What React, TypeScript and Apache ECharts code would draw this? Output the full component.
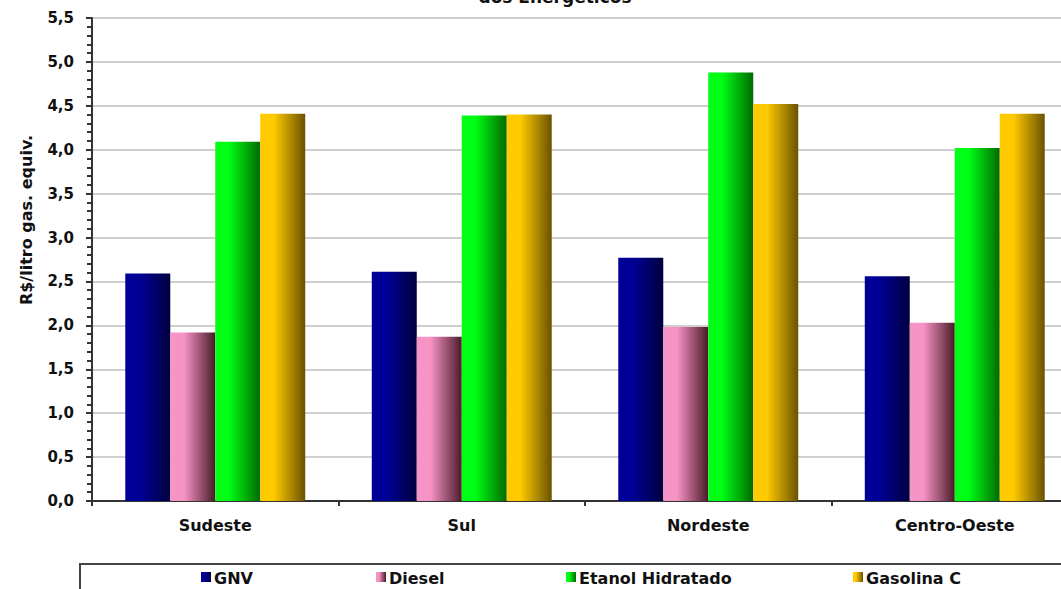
import React, { useEffect, useRef } from "react";
import * as echarts from "echarts";

const categories = ["Sudeste", "Sul", "Nordeste", "Centro-Oeste"];
const seriesNames = ["GNV", "Diesel", "Etanol Hidratado", "Gasolina C"];
const gnv = [2.59, 2.61, 2.77, 2.56];
const diesel = [1.92, 1.87, 1.98, 2.03];
const etanol = [4.09, 4.39, 4.88, 4.02];
const gasolina = [4.41, 4.40, 4.52, 4.41];
const seriesValues = [gnv, diesel, etanol, gasolina];
const colorStops = [
  ["#000099", "#00003f"],
  ["#f794c6", "#4a1a28"],
  ["#00ff14", "#006a00"],
  ["#ffca00", "#6a5200"],
];
const legendX = [201, 376, 566, 853];
const yTitle = "R$/litro gas. equiv.";
const chartTitle = "dos Energéticos";

const FONT = "'DejaVu Sans', Verdana, sans-serif";

function grad(i: number) {
  return new echarts.graphic.LinearGradient(0, 0, 1, 0, [
    { offset: 0, color: colorStops[i][0] },
    { offset: 0.3, color: colorStops[i][0] },
    { offset: 1, color: colorStops[i][1] },
  ]);
}

export default function App() {
  const ref = useRef<HTMLDivElement>(null);
  useEffect(() => {
    if (!ref.current) return;
    const chart = echarts.init(ref.current, undefined, { renderer: "svg" });
    const legendGraphics: any[] = [];
    seriesNames.forEach((n, i) => {
      legendGraphics.push({
        type: "rect",
        shape: { x: legendX[i], y: 572, width: 10, height: 10 },
        style: { fill: grad(i) },
      });
      legendGraphics.push({
        type: "text",
        x: legendX[i] + 13,
        y: 578,
        style: {
          text: n,
          font: `bold 16px ${FONT}`,
          fill: "#111",
          textVerticalAlign: "middle",
        },
      });
    });
    chart.setOption({
      animation: false,
      backgroundColor: "#ffffff",
      grid: { left: 92, top: 18, bottom: 88, right: 22, containLabel: false },
      xAxis: {
        type: "category",
        data: categories,
        axisLine: { show: true, lineStyle: { color: "#333", width: 2 } },
        axisTick: { show: true, length: 5, lineStyle: { color: "#333", width: 2 } },
        axisLabel: {
          margin: 16,
          fontFamily: FONT,
          fontWeight: "bold",
          fontSize: 16,
          color: "#111",
        },
      },
      yAxis: {
        type: "value",
        min: 0,
        max: 5.5,
        interval: 0.5,
        axisLine: { show: true, lineStyle: { color: "#333", width: 2 } },
        axisTick: { show: true, length: 6, lineStyle: { color: "#333", width: 2 } },
        minorTick: { show: true, splitNumber: 5, length: 5, lineStyle: { color: "#333", width: 2 } },
        splitLine: { show: true, lineStyle: { color: "#cfcfcf", width: 2 } },
        axisLabel: {
          margin: 18,
          fontFamily: FONT,
          fontWeight: "bold",
          fontSize: 15,
          color: "#111",
          formatter: (v: number) => v.toFixed(1).replace(".", ","),
        },
      },
      series: seriesNames.map((n, i) => ({
        name: n,
        type: "bar",
        data: seriesValues[i],
        barGap: "0%",
        barCategoryGap: "27%",
        itemStyle: { color: grad(i) },
      })),
      graphic: [
        {
          type: "text",
          x: 555,
          y: 5,
          style: {
            text: chartTitle,
            font: `bold 17px ${FONT}`,
            fill: "#111",
            textAlign: "center",
            textVerticalAlign: "bottom",
          },
        },
        {
          type: "text",
          x: 26,
          y: 220,
          rotation: Math.PI / 2,
          style: {
            text: yTitle,
            font: `bold 16px ${FONT}`,
            fill: "#111",
            textAlign: "center",
            textVerticalAlign: "middle",
          },
        },
        {
          type: "rect",
          shape: { x: 80, y: 564, width: 1040, height: 60 },
          style: { fill: "none", stroke: "#444", lineWidth: 2 },
        },
        ...legendGraphics,
      ],
    });
    return () => chart.dispose();
  }, []);
  return (
    <div style={{ position: "fixed", left: 0, top: 0, width: 1061, height: 589, overflow: "hidden", background: "#fff" }}>
      <div ref={ref} style={{ position: "absolute", left: 0, top: 0, width: 1100, height: 589 }} />
    </div>
  );
}
